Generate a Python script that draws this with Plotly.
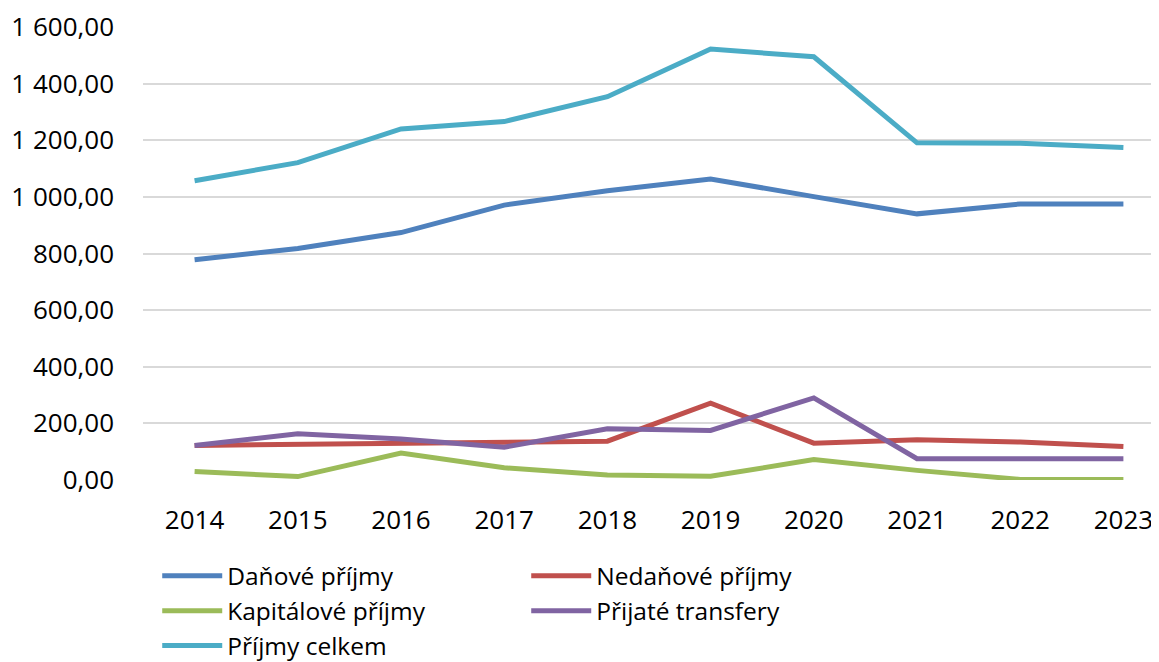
import plotly.graph_objects as go

years = ["2014", "2015", "2016", "2017", "2018", "2019", "2020", "2021", "2022", "2023"]
danove = [778, 818, 874, 971, 1022, 1063, 1001, 940, 975, 975]
nedanove = [122, 125, 128, 134, 137, 271, 130, 142, 134, 118]
kapitalove = [30, 12, 95, 43, 18, 13, 72, 34, 2, 2]
transfery = [122, 163, 145, 116, 181, 175, 290, 75, 75, 75]
celkem = [1057, 1121, 1240, 1266, 1354, 1522, 1495, 1191, 1189, 1174]

series = [
    ("Daňové příjmy", danove, "#4F81BD"),
    ("Nedaňové příjmy", nedanove, "#C0504D"),
    ("Kapitálové příjmy", kapitalove, "#9BBB59"),
    ("Přijaté transfery", transfery, "#8064A2"),
    ("Příjmy celkem", celkem, "#4BACC6"),
]

fig = go.Figure()
for name, vals, color in series:
    fig.add_trace(go.Scatter(
        x=list(range(len(years))), y=vals, name=name, mode="lines",
        line=dict(color=color, width=5),
    ))

FS = 26
fig.update_layout(
    width=1151, height=654,
    margin=dict(l=135, r=0, t=19, b=182, autoexpand=False),
    paper_bgcolor="white", plot_bgcolor="white",
    font=dict(family="Open Sans", size=FS, color="#000000"),
    separators=", ",
    showlegend=True,
    legend=dict(
        orientation="h", x=0.014, y=-0.162, xanchor="left", yanchor="top",
        entrywidth=294, entrywidthmode="pixels",
        font=dict(family="Open Sans", size=24.5, color="#000000"),
        tracegroupgap=0, itemwidth=60,
    ),
)
fig.update_xaxes(
    tickmode="array", tickvals=list(range(len(years))), ticktext=years,
    range=[-0.5, 9.345], showgrid=False, zeroline=False, showline=False,
    ticks="", ticklen=0, tickfont=dict(size=FS), automargin=False,
    ticklabelstandoff=22,
)
fig.update_yaxes(
    range=[0, 1600], dtick=200, tickformat=",.2f",
    showgrid=True, gridcolor="#D9D9D9", gridwidth=1.5,
    zeroline=False, showline=False, ticks="", tickfont=dict(size=FS),
    ticklabelstandoff=28, automargin=False,
)

fig.write_html("out.html")
